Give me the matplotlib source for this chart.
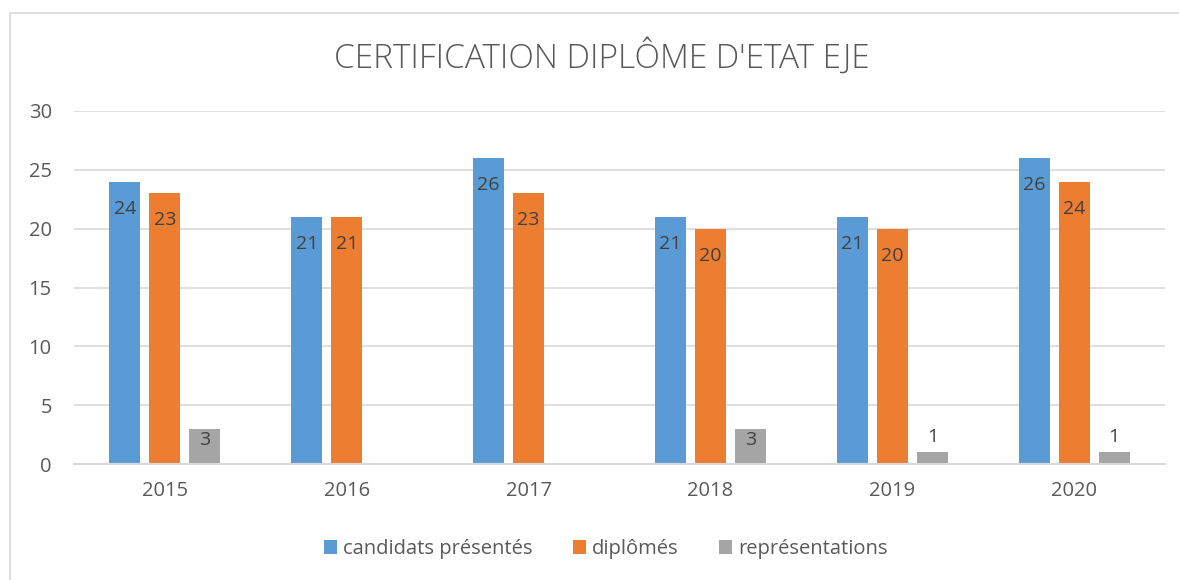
import numpy as np
import matplotlib.pyplot as plt
from matplotlib.patches import Rectangle

annees = ['2015', '2016', '2017', '2018', '2019', '2020']
candidats = [24, 21, 26, 21, 21, 26]
diplomes = [23, 21, 23, 20, 20, 24]
representations = [3, 0, 0, 3, 1, 1]

noms = ['candidats présentés', 'diplômés', 'représentations']
couleurs = ['#5B9BD5', '#ED7D31', '#A5A5A5']

W, H = 1179, 580
plt.rcParams['font.family'] = ['Open Sans', 'DejaVu Sans']
fig = plt.figure(figsize=(W / 100, H / 100), dpi=100)
ax = fig.add_axes([74 / W, 1 - 464 / H, (1165 - 74) / W, (464 - 111) / H])

# cadre du graphique (seuls les bords gauche et haut sont visibles)
fig.patches.append(Rectangle((10 / W, -0.1), 1.2, 1 - 13 / H + 0.1,
                             transform=fig.transFigure, fill=False,
                             edgecolor='#D9D9D9', linewidth=1.2))

x = np.arange(len(annees))
larg = 0.17
pas = 0.22
series = [candidats, diplomes, representations]
for i, (vals, nom, c) in enumerate(zip(series, noms, couleurs)):
    pos = x + (i - 1) * pas
    bars = ax.bar(pos, vals, width=larg, color=c, label=nom, zorder=3)
    for b, v in zip(bars, vals):
        if v == 0:
            continue
        cx = b.get_x() + b.get_width() / 2
        if v >= 2.5:
            # étiquette à l'intérieur, en haut de la barre
            yc = max(v - 2.3, v / 2 + 0.5)
            ax.text(cx, yc, str(v), ha='center', va='center',
                    fontsize=14, color='#404040', zorder=4)
        else:
            ax.text(cx, v + 0.5, str(v), ha='center', va='bottom',
                    fontsize=14, color='#404040', zorder=4)

ax.set_xlim(-0.5, len(annees) - 0.5)
ax.set_ylim(0, 30)
ax.set_yticks(range(0, 31, 5))
ax.set_xticks(x)
ax.set_xticklabels(annees)
ax.grid(axis='y', color='#D9D9D9', linewidth=1.2, zorder=0)
for s in ['top', 'right', 'left']:
    ax.spines[s].set_visible(False)
ax.spines['bottom'].set_color('#D9D9D9')
ax.spines['bottom'].set_linewidth(1.5)
ax.spines['bottom'].set_zorder(5)
ax.tick_params(axis='both', length=0, labelsize=14.5, labelcolor='#595959')
ax.tick_params(axis='x', pad=12)
ax.tick_params(axis='y', pad=16)

fig.text(602 / W, 1 - 57 / H, "CERTIFICATION DIPLÔME D'ETAT EJE",
         ha='center', va='center', fontsize=24, color='#595959',
         fontweight='light')

fig.legend(loc='center', bbox_to_anchor=(606 / W, 1 - 549 / H), ncol=3,
           frameon=False, fontsize=14.5, labelcolor='#595959',
           handlelength=0.65, handleheight=0.65, handletextpad=0.3,
           columnspacing=2.0)

fig.savefig('out.png', dpi=100)
